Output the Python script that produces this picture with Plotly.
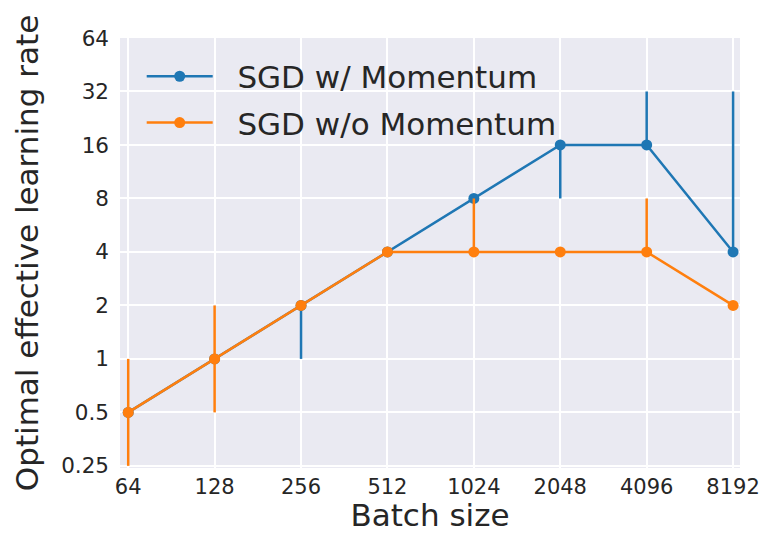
import math
import plotly.graph_objects as go

batch_sizes = [64, 128, 256, 512, 1024, 2048, 4096, 8192]
x_tick_labels = ["64", "128", "256", "512", "1024", "2048", "4096", "8192"]

y_tick_values = [0.25, 0.5, 1, 2, 4, 8, 16, 32, 64]
y_tick_labels = ["0.25", "0.5", "1", "2", "4", "8", "16", "32", "64"]

mom_lr = [0.5, 1, 2, 4, 8, 16, 16, 4]
mom_err_plus = [0, 0, 0, 0, 0, 0, 16, 28]
mom_err_minus = [0, 0, 1, 0, 0, 8, 0, 0]

nomom_lr = [0.5, 1, 2, 4, 4, 4, 4, 2]
nomom_err_plus = [0.5, 1, 0, 0, 4, 0, 4, 0]
nomom_err_minus = [0.25, 0.5, 0, 0, 0, 0, 0, 0]

BLUE = "#1f77b4"
ORANGE = "#ff7f0e"
FONT = "DejaVu Sans"
TXT = "#262626"
NB = "\u00a0\u00a0"

fig = go.Figure()
fig.add_trace(go.Scatter(
    x=batch_sizes, y=mom_lr, mode="lines+markers", name=NB + "SGD w/ Momentum",
    legendgroup="a",
    line=dict(color=BLUE, width=2.5), marker=dict(color=BLUE, size=11),
    error_y=dict(type="data", symmetric=False, array=mom_err_plus,
                 arrayminus=mom_err_minus, color=BLUE, thickness=2.5, width=0),
))
fig.add_trace(go.Scatter(
    x=batch_sizes, y=nomom_lr, mode="lines+markers", name=NB + "SGD w/o Momentum",
    legendgroup="b",
    line=dict(color=ORANGE, width=2.5), marker=dict(color=ORANGE, size=11),
    error_y=dict(type="data", symmetric=False, array=nomom_err_plus,
                 arrayminus=nomom_err_minus, color=ORANGE, thickness=2.5, width=0),
))

fig.update_layout(
    width=759, height=525,
    margin=dict(l=112, r=27, t=30, b=65),
    paper_bgcolor="white", plot_bgcolor="#EAEAF2",
    font=dict(family=FONT, color=TXT, size=21),
    showlegend=True,
    legend=dict(x=0.035, y=0.973, xanchor="left", yanchor="top",
                bgcolor="rgba(0,0,0,0)", font=dict(size=31, color=TXT),
                itemwidth=66, tracegroupgap=3),
)
fig.update_xaxes(
    type="log", range=[math.log10(2 ** 5.905), math.log10(2 ** 13.08)],
    tickvals=batch_sizes, ticktext=x_tick_labels, automargin=False,
    showgrid=True, gridcolor="white", gridwidth=1.5, zeroline=False,
    showline=False, ticks="", tickfont=dict(size=21, color=TXT),
    ticklabelstandoff=4,
    title=dict(text="Batch size", font=dict(size=31, color=TXT), standoff=17),
)
fig.update_yaxes(
    type="log", range=[math.log10(2 ** -2.04), math.log10(2 ** 6)],
    tickvals=y_tick_values, ticktext=y_tick_labels, automargin=False,
    showgrid=True, gridcolor="white", gridwidth=1.5, zeroline=False,
    showline=False, ticks="", tickfont=dict(size=21.5, color=TXT),
    ticklabelstandoff=10,
    title=dict(text="Optimal effective learning rate", font=dict(size=31, color=TXT), standoff=13),
)

fig.write_html("out.html")
